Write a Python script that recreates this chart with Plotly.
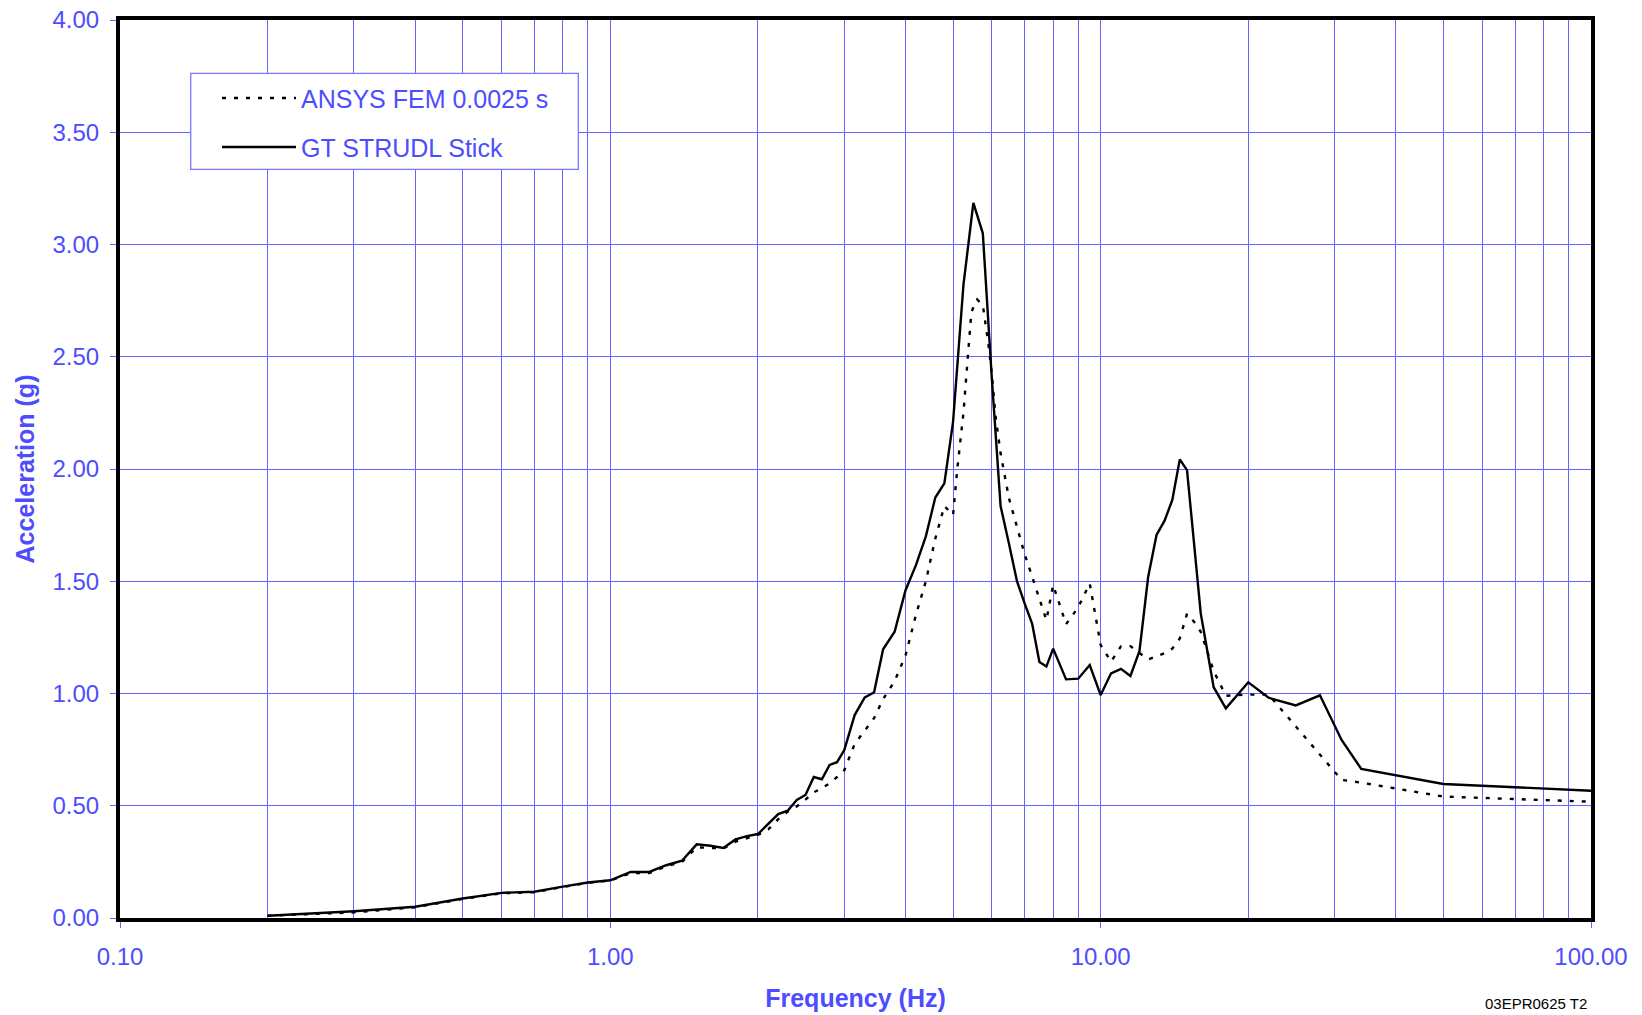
import plotly.graph_objects as go

# Spectral acceleration (g) versus frequency (Hz) for the two models
strudl_freq = [0.2, 0.3, 0.4, 0.5, 0.6, 0.7, 0.8, 0.9, 1.0, 1.1, 1.2, 1.3, 1.4, 1.5, 1.6, 1.7,
               1.8, 1.9, 2.0, 2.1, 2.2, 2.3, 2.4, 2.5, 2.6, 2.7, 2.8, 2.9, 3.0, 3.15, 3.3, 3.45,
               3.6, 3.8, 4.0, 4.2, 4.4, 4.6, 4.8, 5.0, 5.25, 5.5, 5.75, 6.0, 6.25, 6.5, 6.75,
               7.0, 7.25, 7.5, 7.75, 8.0, 8.5, 9.0, 9.5, 10.0, 10.5, 11.0, 11.5, 12.0, 12.5,
               13.0, 13.5, 14.0, 14.5, 15.0, 16.0, 17.0, 18.0, 20.0, 22.0, 25.0, 28.0, 31.0,
               34.0, 50.0, 100.0]
strudl_acc = [0.010, 0.030, 0.050, 0.087, 0.112, 0.117, 0.140, 0.158, 0.168, 0.205, 0.205,
              0.235, 0.255, 0.328, 0.322, 0.312, 0.350, 0.365, 0.374, 0.422, 0.463, 0.478,
              0.526, 0.548, 0.628, 0.618, 0.682, 0.694, 0.748, 0.904, 0.982, 1.005, 1.197,
              1.275, 1.460, 1.572, 1.700, 1.873, 1.936, 2.210, 2.820, 3.185, 3.050, 2.400,
              1.835, 1.668, 1.500, 1.400, 1.310, 1.140, 1.120, 1.200, 1.063, 1.066, 1.127,
              0.993, 1.090, 1.110, 1.078, 1.190, 1.520, 1.706, 1.770, 1.862, 2.043, 1.995,
              1.357, 1.028, 0.934, 1.050, 0.981, 0.947, 0.992, 0.793, 0.664, 0.597, 0.567]

ansys_freq = [0.2, 0.3, 0.4, 0.5, 0.6, 0.7, 0.8, 0.9, 1.0, 1.1, 1.2, 1.3, 1.4, 1.5, 1.6, 1.7,
              1.8, 1.9, 2.0, 2.1, 2.2, 2.3, 2.4, 2.5, 2.6, 2.7, 2.8, 2.9, 3.0, 3.15, 3.3, 3.45,
              3.6, 3.8, 4.0, 4.2, 4.4, 4.6, 4.8, 5.0, 5.1, 5.25, 5.35, 5.45, 5.6, 5.75, 5.9,
              6.0, 6.1, 6.25, 6.5, 6.75, 7.0, 7.25, 7.5, 7.75, 8.0, 8.5, 9.0, 9.5, 10.0, 10.5,
              11.0, 11.5, 12.0, 12.5, 13.0, 13.5, 14.0, 14.5, 15.0, 15.5, 16.0, 17.0, 18.0,
              20.0, 22.0, 25.0, 28.0, 31.0, 34.0, 40.0, 50.0, 100.0]
ansys_acc = [0.010, 0.025, 0.048, 0.085, 0.110, 0.115, 0.138, 0.157, 0.167, 0.200, 0.200,
             0.230, 0.250, 0.315, 0.312, 0.310, 0.340, 0.355, 0.370, 0.395, 0.440, 0.474,
             0.497, 0.527, 0.560, 0.578, 0.600, 0.628, 0.658, 0.775, 0.835, 0.890, 0.975,
             1.055, 1.170, 1.350, 1.500, 1.690, 1.835, 1.795, 2.000, 2.250, 2.480, 2.700,
             2.755, 2.730, 2.560, 2.420, 2.240, 2.070, 1.870, 1.740, 1.620, 1.520, 1.420,
             1.327, 1.483, 1.309, 1.384, 1.490, 1.216, 1.142, 1.210, 1.211, 1.180, 1.152,
             1.165, 1.180, 1.200, 1.245, 1.355, 1.320, 1.275, 1.100, 0.990, 0.995, 0.995,
             0.852, 0.726, 0.615, 0.603, 0.578, 0.541, 0.518]

series_names = ["ANSYS FEM 0.0025 s", "GT STRUDL Stick"]

x_major_vals = [0.1, 1, 10, 100]
x_major_text = ["0.10", "1.00", "10.00", "100.00"]
x_minor_vals = [m * d for d in (0.1, 1, 10) for m in range(2, 10)]
y_tick_vals = [0, 0.5, 1.0, 1.5, 2.0, 2.5, 3.0, 3.5, 4.0]

FONT = "Liberation Sans, Arial, sans-serif"
BLUE = "rgb(77,77,255)"
GRID = "rgb(100,100,255)"
DOT = "4px,8px"

W, H = 1642, 1015
ML, MR, MT, MB = 120, 51, 20, 97
PW, PH = W - ML - MR, H - MT - MB


def px(x):
    return (x - ML) / PW


def py(y):
    return (MT + PH - y) / PH


fig = go.Figure()
fig.add_trace(go.Scatter(x=ansys_freq, y=ansys_acc, mode="lines", name=series_names[0],
                         line=dict(color="black", width=2.4, dash=DOT)))
fig.add_trace(go.Scatter(x=strudl_freq, y=strudl_acc, mode="lines", name=series_names[1],
                         line=dict(color="black", width=2.4)))

# Boxed key in the upper left of the plot
box = dict(x0=190.7, x1=578.3, y0=73.3, y1=169.3)
shapes = [
    dict(type="rect", xref="paper", yref="paper", x0=px(box["x0"]), x1=px(box["x1"]),
         y0=py(box["y1"]), y1=py(box["y0"]), line=dict(color="rgb(120,120,255)", width=1.3),
         fillcolor="white", layer="above"),
]
annotations = []
for row_y, name, dash in ((98, series_names[0], DOT), (147, series_names[1], "solid")):
    shapes.append(dict(type="line", xref="paper", yref="paper", x0=px(222), x1=px(296),
                       y0=py(row_y), y1=py(row_y), layer="above",
                       line=dict(color="black", width=2.4, dash=dash)))
    annotations.append(dict(xref="paper", yref="paper", x=px(299), y=py(row_y + 1),
                            xanchor="left", yanchor="middle", showarrow=False, text=name,
                            font=dict(family=FONT, size=25, color=BLUE)))

annotations.append(dict(xref="paper", yref="paper", x=px(1589), y=py(1003),
                        xanchor="right", yanchor="middle", showarrow=False,
                        text="03EPR0625 T2", font=dict(family=FONT, size=15, color="black")))

fig.update_layout(
    width=W, height=H,
    margin=dict(l=ML, r=MR, t=MT, b=MB, autoexpand=False),
    paper_bgcolor="white", plot_bgcolor="white",
    showlegend=False,
    font=dict(family=FONT, color=BLUE),
    shapes=shapes, annotations=annotations,
    xaxis=dict(
        type="log", range=[-1, 2],
        tickmode="array", tickvals=x_major_vals, ticktext=x_major_text,
        tickfont=dict(family=FONT, size=24, color=BLUE),
        ticks="outside", ticklen=6, tickcolor=GRID, tickwidth=1,
        ticklabelstandoff=8,
        showgrid=True, gridcolor=GRID, gridwidth=1,
        minor=dict(tickmode="array", tickvals=x_minor_vals, showgrid=True,
                   gridcolor=GRID, gridwidth=1, ticks=""),
        showline=True, linecolor="black", linewidth=4, mirror=True,
        zeroline=False,
        title=dict(text="<b>Frequency (Hz)</b>", standoff=22,
                   font=dict(family=FONT, size=25, color=BLUE)),
    ),
    yaxis=dict(
        range=[0, 4], tickmode="array", tickvals=y_tick_vals, tickformat=".2f",
        tickfont=dict(family=FONT, size=24, color=BLUE),
        ticks="outside", ticklen=6, tickcolor=GRID, tickwidth=1,
        ticklabelstandoff=6,
        showgrid=True, gridcolor=GRID, gridwidth=1,
        showline=True, linecolor="black", linewidth=4, mirror=True,
        zeroline=False,
        title=dict(text="<b>Acceleration (g)</b>", standoff=12,
                   font=dict(family=FONT, size=25, color=BLUE)),
    ),
)

fig.write_html("out.html")
